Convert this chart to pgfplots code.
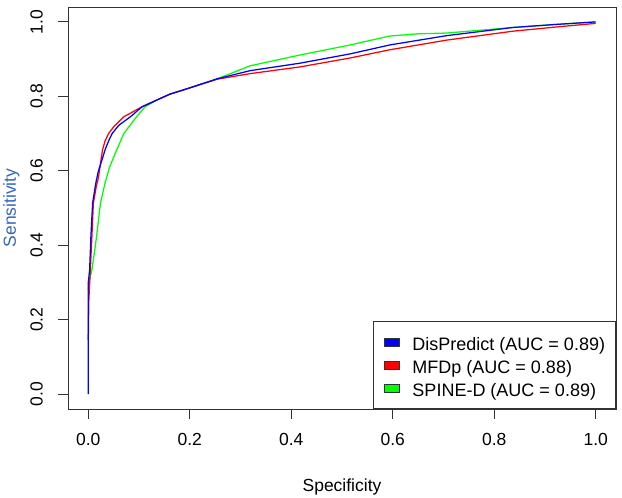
\documentclass[border=0pt]{standalone}
\usepackage{fontspec}
\setmainfont{Liberation Sans}
\usepackage{pgfplots}
\pgfplotsset{compat=1.18}

\definecolor{rblue}{rgb}{0,0,1}
\definecolor{rred}{rgb}{1,0,0}
\definecolor{rgreen}{rgb}{0,1,0}
\definecolor{labblue}{rgb}{0.2,0.4,0.75}

\newcommand{\tickfont}{\fontsize{17.5}{21}\selectfont}
\newcommand{\legfont}{\fontsize{18}{21}\selectfont}

\begin{document}
\begin{tikzpicture}
\begin{axis}[
  name=ax,
  scale only axis,
  width=548pt, height=402pt,
  xmin=-0.04, xmax=1.04, ymin=-0.04, ymax=1.04,
  axis line style={black!80, line width=0.9pt},
  xtick={0,0.2,0.4,0.6,0.8,1},
  xticklabels={0.0,0.2,0.4,0.6,0.8,1.0},
  ytick={0,0.2,0.4,0.6,0.8,1},
  yticklabels={0.0,0.2,0.4,0.6,0.8,1.0},
  xtick pos=bottom, ytick pos=left,
  tick align=outside,
  major tick length=10pt,
  tick style={black!80, line width=0.9pt},
  ticklabel style={font=\tickfont, inner sep=0pt},
  xticklabel style={anchor=north, yshift=-14pt},
  yticklabel style={xshift=-15pt, rotate=90, anchor=south},
  xlabel={Specificity},
  every axis x label/.style={at={(rel axis cs:0.5,0)}, anchor=center, yshift=-78pt, font=\tickfont},
  ylabel={Sensitivity},
  every axis y label/.style={at={(rel axis cs:-0.0949,0.5)}, rotate=90, anchor=base, font=\tickfont, text=labblue},
  no markers,
  reverse legend,
  legend cell align=left,
  legend style={at={(rel axis cs:1,0)}, anchor=south east,
    draw=black!80, line width=0.9pt, fill=white, font=\legfont,
    inner xsep=10.5pt, inner ysep=12pt, row sep=6pt, column sep=13pt,
    nodes={inner sep=0pt, text height=16.5pt, text depth=0.5pt}},
]

% SPINE-D
\addplot[rgreen, line width=1.25pt,
  legend image code/.code={\draw[draw=black!80, fill=rgreen, line width=0.6pt] (4.5pt,-4pt) rectangle (19.5pt,4pt);}]
coordinates {
(0,0.28) (0.003,0.31) (0.007,0.333) (0.012,0.38) (0.016,0.42) (0.024,0.513)
(0.033,0.567) (0.042,0.61) (0.056,0.656) (0.070,0.70) (0.095,0.745) (0.112,0.772)
(0.135,0.79) (0.161,0.806) (0.187,0.817) (0.254,0.847) (0.319,0.882) (0.417,0.911)
(0.516,0.938) (0.594,0.962) (0.65,0.968) (0.706,0.970) (0.837,0.985) (0.92,0.993) (1,1)
};
\addlegendentry{SPINE-D (AUC = 0.89)}

% MFDp
\addplot[rred, line width=1.25pt,
  legend image code/.code={\draw[draw=black!80, fill=rred, line width=0.6pt] (4.5pt,-4pt) rectangle (19.5pt,4pt);}]
coordinates {
(0,0.145) (0.001,0.25) (0.004,0.333) (0.007,0.42) (0.010,0.513) (0.016,0.56)
(0.019,0.575) (0.022,0.60) (0.025,0.629) (0.028,0.656) (0.033,0.68) (0.040,0.70)
(0.050,0.718) (0.070,0.745) (0.106,0.772) (0.135,0.79) (0.161,0.806) (0.187,0.817)
(0.254,0.846) (0.319,0.861) (0.417,0.879) (0.516,0.903) (0.594,0.925) (0.706,0.951)
(0.837,0.975) (0.92,0.986) (1,0.996)
};
\addlegendentry{MFDp (AUC = 0.88)}

% DisPredict
\addplot[rblue, line width=1.25pt,
  legend image code/.code={\draw[draw=black!80, fill=rblue, line width=0.6pt] (4.5pt,-4pt) rectangle (19.5pt,4pt);}]
coordinates {
(0,0) (0,0.30) (0.0026,0.333) (0.005,0.42) (0.0085,0.513) (0.014,0.56) (0.016,0.575)
(0.020,0.60) (0.027,0.629) (0.033,0.656) (0.040,0.68) (0.047,0.70) (0.060,0.722)
(0.083,0.745) (0.106,0.772) (0.135,0.79) (0.161,0.806) (0.187,0.817) (0.254,0.847)
(0.319,0.869) (0.417,0.889) (0.516,0.914) (0.594,0.938) (0.706,0.963) (0.837,0.985)
(0.92,0.993) (1,1)
};
\addlegendentry{DisPredict (AUC = 0.89)}
\end{axis}
\pgfresetboundingbox
\path[use as bounding box] ([xshift=-68pt,yshift=-89pt]ax.south west) rectangle ([xshift=6pt,yshift=7pt]ax.north east);
\end{tikzpicture}
\end{document}
